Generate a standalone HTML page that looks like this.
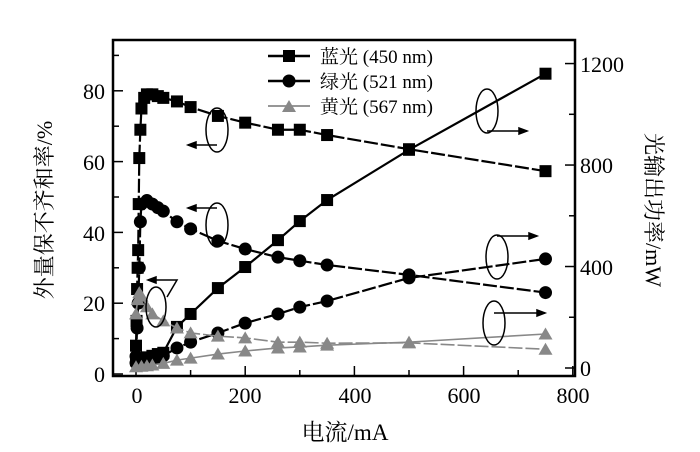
<!DOCTYPE html>
<html><head><meta charset="utf-8"><style>
body{margin:0;background:#fff;}
svg text{font-family:"Liberation Serif","Noto Serif CJK SC",serif;fill:#000;}
</style></head><body>
<svg id="s" width="700" height="447" xmlns="http://www.w3.org/2000/svg">
<rect x="113" y="40" width="462" height="336" fill="none" stroke="#000" stroke-width="2.5"/>
<g id="ticks"></g>
<g id="data"></g>
<g font-size="22">
<text x="137" y="403" text-anchor="middle">0</text>
<text x="245" y="403" text-anchor="middle">200</text>
<text x="355" y="403" text-anchor="middle">400</text>
<text x="464" y="403" text-anchor="middle">600</text>
<text x="573" y="403" text-anchor="middle">800</text>
<text x="105" y="382" text-anchor="end">0</text>
<text x="105" y="311" text-anchor="end">20</text>
<text x="105" y="241" text-anchor="end">40</text>
<text x="105" y="170" text-anchor="end">60</text>
<text x="105" y="99" text-anchor="end">80</text>
<text x="580" y="376">0</text>
<text x="580" y="275">400</text>
<text x="580" y="173">800</text>
<text x="580" y="72">1200</text>
</g>
<text x="345" y="440" font-size="23" text-anchor="middle">电流/mA</text>
<text transform="translate(52,210) rotate(-90)" font-size="22" text-anchor="middle">外量保不齐和率/%</text>
<text transform="translate(646,210) rotate(90)" font-size="22" text-anchor="middle">光输出功率/mW</text>
<g font-size="19">
<line x1="268" y1="56" x2="310" y2="56" stroke="#000" stroke-width="2.5"/><rect x="283" y="50" width="12" height="12"/>
<text x="320" y="63">蓝光 (450 nm)</text>
<line x1="268" y1="81" x2="310" y2="81" stroke="#000" stroke-width="2.5"/><circle cx="289" cy="81" r="6.5"/>
<text x="320" y="88">绿光 (521 nm)</text>
<line x1="268" y1="106" x2="310" y2="106" stroke="#888" stroke-width="1.8"/><polygon points="289,100 296,112 282,112" fill="#888"/>
<text x="320" y="113">黄光 (567 nm)</text>
</g>
<g fill="none" stroke="#000" stroke-width="1.5">
<ellipse cx="217" cy="130" rx="11" ry="22"/><path d="M217 145 L188 145"/><path d="M188 145 l8 -3 v6z" fill="#000"/>
<ellipse cx="217" cy="225" rx="11" ry="22"/><path d="M217 208 L188 208"/><path d="M188 208 l8 -3 v6z" fill="#000"/>
<ellipse cx="156" cy="307" rx="10" ry="20"/><path d="M167 297 L177 280 L148 280"/><path d="M148 280 l8 -3 v6z" fill="#000"/>
<ellipse cx="487" cy="111" rx="11" ry="22"/><path d="M487 131 L527 131"/><path d="M527 131 l-8 -3 v6z" fill="#000"/>
<ellipse cx="497" cy="257" rx="11" ry="22"/><path d="M497 236 L537 236"/><path d="M537 236 l-8 -3 v6z" fill="#000"/>
<ellipse cx="494" cy="323" rx="11" ry="22"/><path d="M494 313 L545 313"/><path d="M545 313 l-8 -3 v6z" fill="#000"/>
</g>
</svg>
<script>
var NS="http://www.w3.org/2000/svg",d=document.getElementById('data'),t=document.getElementById('ticks');
function X(v){return 136+v*0.546}function YL(v){return 374-v*3.54}function YR(v){return 368-v*0.2537}
function el(n,a,p){var e=document.createElementNS(NS,n);for(var k in a)e.setAttribute(k,a[k]);(p||d).appendChild(e);return e}
for(var v=0;v<=800;v+=100){var x=X(v);el('line',{x1:x,y1:376,x2:x,y2:v%200?370:366,stroke:'#000','stroke-width':1.5},t)}
for(var v=0;v<=90;v+=10){var y=YL(v);el('line',{x1:113,y1:y,x2:v%20?119:123,y2:y,stroke:'#000','stroke-width':1.5},t)}
for(var v=0;v<=1300;v+=200){var y=YR(v);if(y<40)continue;el('line',{x1:575,y1:y,x2:v%400?569:565,y2:y,stroke:'#000','stroke-width':1.5},t)}
function series(pts,yf,col,mk,dash){var s='';pts.forEach(function(p,i){s+=(i?'L':'M')+X(p[0])+' '+yf(p[1])});
el('path',{d:s,fill:'none',stroke:col,'stroke-width':col=='#000'?2.2:1.6,'stroke-dasharray':dash||''});
pts.forEach(function(p){var x=X(p[0]),y=yf(p[1]);if(mk=='s')el('rect',{x:x-6,y:y-6,width:12,height:12,fill:col});
else if(mk=='c')el('circle',{cx:x,cy:y,r:6.5,fill:col});else el('polygon',{points:x+','+(y-6.5)+' '+(x+7)+','+(y+5.5)+' '+(x-7)+','+(y+5.5),fill:col})})}
series([[0,8],[1,15],[2,24],[3,30],[4,35],[5,48],[6,61],[8,69],[10,75],[15,78],[20,79],[30,79],[40,78.5],[50,78],[75,77],[100,75.4],[150,72.9],[200,71],[260,69],[300,69],[350,67.5],[500,63.5],[750,57.3]],YL,'#000','s','14 3');
series([[0,30],[5,35],[10,38],[20,42],[30,48],[40,55],[50,60],[75,162],[100,213],[150,315],[200,398],[260,504],[300,579],[350,662],[500,860],[750,1160]],YR,'#000','s');
series([[0,5],[2,13],[4,20],[6,30],[8,43],[10,48],[20,49],[30,48],[40,47],[50,46],[75,43],[100,41],[150,37.6],[200,35.3],[260,33],[300,32],[350,30.8],[500,28],[750,23]],YL,'#000','c','14 3');
series([[0,20],[10,25],[20,30],[30,35],[40,40],[50,48],[75,79],[100,102],[150,138],[200,177],[260,213],[300,240],[350,264],[500,355],[750,430]],YR,'#000','c','14 3');
series([[0,17],[3,21],[6,23],[10,22],[20,19],[30,17],[50,15],[75,13],[100,11.6],[150,10.7],[200,10.2],[260,9],[300,9],[350,8.7],[500,8.8],[750,7]],YL,'#888','t','14 3');
series([[0,5],[10,7],[20,9],[30,12],[50,18],[75,31],[100,39],[150,55],[200,67],[260,79],[300,83],[350,90],[500,102],[750,134]],YR,'#888','t');
</script>
</body></html>
